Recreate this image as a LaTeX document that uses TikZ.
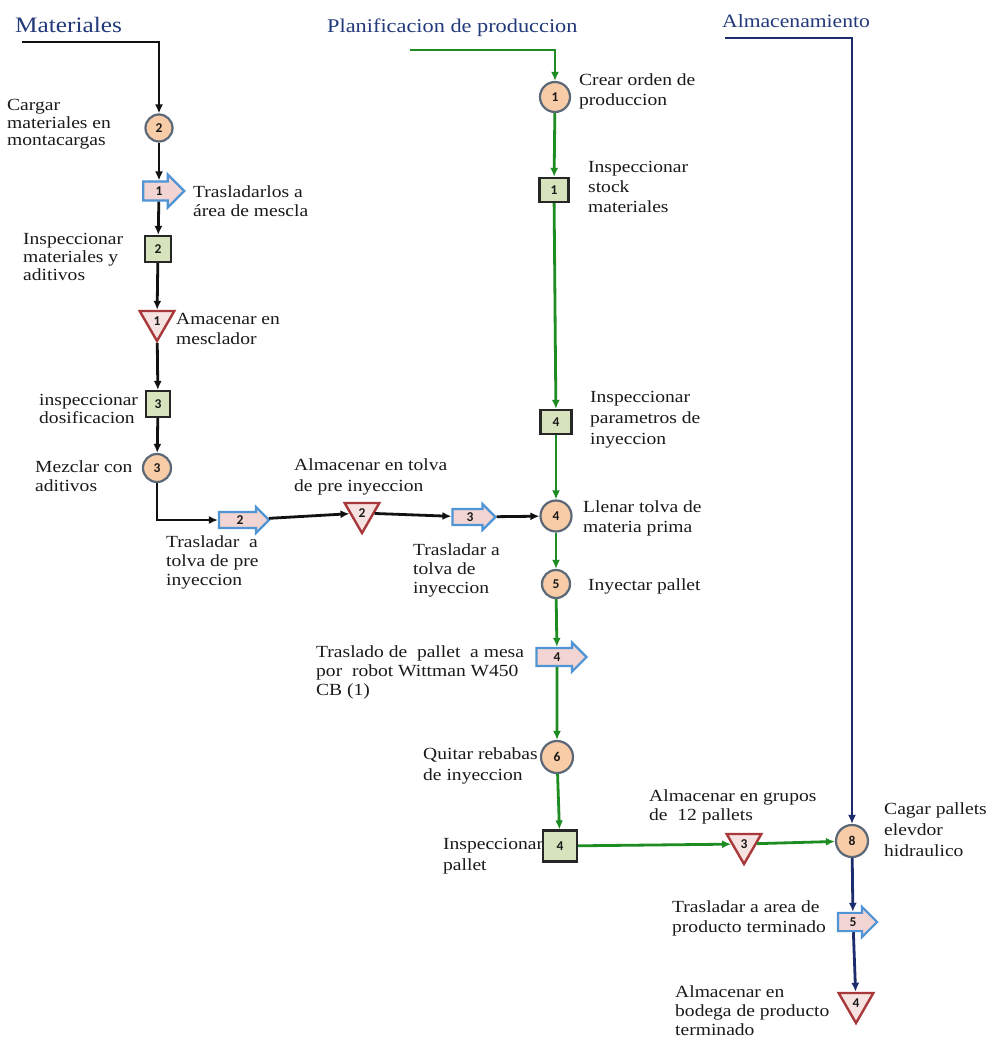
\documentclass[tikz,border=0pt]{standalone}
\usepackage{fontspec}
\setmainfont{Liberation Serif}[FakeStretch=1.15]
\newfontfamily\numfont{Carlito}
\usetikzlibrary{shapes.geometric,shapes.arrows,arrows.meta}
\definecolor{titleblue}{HTML}{233A7A}
\definecolor{lblack}{HTML}{111111}
\definecolor{lgreen}{HTML}{1E8C22}
\definecolor{lnavy}{HTML}{1C2C6C}
\definecolor{opfill}{HTML}{F9CCA8}
\definecolor{opdraw}{HTML}{5A6878}
\definecolor{inspfill}{HTML}{D6E3BD}
\definecolor{trifill}{HTML}{F6E2E0}
\definecolor{tridraw}{HTML}{A8383A}
\definecolor{trfill}{HTML}{F2D4D2}
\definecolor{trdraw}{HTML}{4F95D6}
\definecolor{txt}{HTML}{1A1A1A}
\newcommand\lblfont[1]{\fontsize{17}{#1}\selectfont}
\newcommand\numf{\numfont\bfseries\fontsize{13.5}{13.5}\selectfont}
\begin{document}
\begin{tikzpicture}[x=1pt,y=-1pt,
  title/.style={anchor=base west, inner sep=0pt, text=titleblue},
  lbl/.style={anchor=north west, align=left, inner sep=0pt, text=txt, font=\lblfont{#1}},
  lbl/.default=19.5,
  opnode/.style={circle, draw=opdraw, fill=opfill, line width=2.2pt, inner sep=0pt, minimum size=#1, font=\numf, text=txt},
  insp/.style 2 args={rectangle, draw=black!85, fill=inspfill, line width=2.2pt, minimum width=#1, minimum height=#2, inner sep=0pt, font=\numf, text=txt},
  tri/.style={regular polygon, regular polygon sides=3, shape border rotate=180, draw=tridraw, fill=trifill, line width=2.4pt, minimum size=40pt, inner sep=0pt, font=\numf, text=txt},
  trn/.style n args={3}{single arrow, draw=trdraw, fill=trfill, line width=2.2pt, minimum height=#1, single arrow head extend=#2, inner xsep=1pt, inner ysep=#3, font=\numf, text=txt},
  flowk/.style={line width=2.8pt, draw=lblack, -{Latex[length=9pt,width=8pt]}},
  flowg/.style={line width=2.8pt, draw=lgreen, -{Latex[length=9pt,width=8pt]}},
  flowb/.style={line width=2.8pt, draw=lnavy, -{Latex[length=9pt,width=8pt]}}
]
\useasboundingbox[fill=white] (0,0) rectangle (994,1041);

% titles
\node[title, font=\fontsize{22}{24}\selectfont] (tM) at (15,33) {Materiales};
\node[title, font=\fontsize{19.4}{22}\selectfont] (tP) at (327,33) {Planificacion de produccion};
\node[title, font=\fontsize{18.8}{22}\selectfont] (tA) at (722,28) {Almacenamiento};

% labels
\node[lbl=17.5] (l1) at (7,99.5) {Cargar\\materiales en\\montacargas};
\node[lbl=19] (l2) at (193,185.5) {Trasladarlos a\\área de mescla};
\node[lbl=18] (l3) at (23,233.5) {Inspeccionar\\materiales y\\aditivos};
\node[lbl=20] (l4) at (176,313.5) {Amacenar en\\mesclador};
\node[lbl=18] (l5) at (39,394.5) {inspeccionar\\dosificacion};
\node[lbl=19] (l6) at (35,460.5) {Mezclar con\\aditivos};
\node[lbl=19] (l7) at (166,535.5) {Trasladar \ a\\tolva de pre\\inyeccion};
\node[lbl=21] (l8) at (294,458.5) {Almacenar en tolva\\de pre inyeccion};
\node[lbl=19] (l9) at (413,543.5) {Trasladar a\\tolva de\\inyeccion};
\node[lbl=20] (l10) at (579,73.5) {Crear orden de\\produccion};
\node[lbl=20] (l11) at (588,161.5) {Inspeccionar\\stock\\materiales};
\node[lbl=21] (l12) at (590,391.5) {Inspeccionar\\parametros de\\inyeccion};
\node[lbl=20] (l13) at (583,500.5) {Llenar tolva de\\materia prima};
\node[anchor=base west, inner sep=0pt, text=txt, font=\lblfont{20}] (l14) at (588,590) {Inyectar pallet};
\node[lbl=19] (l15) at (316,645.5) {Traslado de \ pallet \ a mesa\\por \ robot Wittman W450\\CB (1)};
\node[lbl=21] (l16) at (423,747.5) {Quitar rebabas\\de inyeccion};
\node[lbl=21] (l17) at (443,838.5) {Inspeccionar\\pallet};
\node[lbl=19] (l18) at (649,789.5) {Almacenar en grupos\\de \ 12 pallets};
\node[lbl=21] (l19) at (884,802.5) {Cagar pallets\\elevdor\\hidraulico};
\node[lbl=20] (l20) at (672,900.5) {Trasladar a area de\\producto terminado};
\node[lbl=19] (l21) at (675,985.5) {Almacenar en\\bodega de producto\\terminado};

% start coordinates
\coordinate (mS) at (22,42);
\coordinate (pS) at (410,50);
\coordinate (aS) at (725,38);

% left column
\node[opnode=27pt] (c2) at (159,128) {2};
\node[trn={41pt}{7pt}{4pt}] (t1) at (159,191) {1};
\node[insp={26pt}{26pt}] (s2) at (158,249) {2};
\node[tri] (tr1) at (157,321) {1};
\node[insp={24pt}{26pt}] (s3) at (158,404) {3};
\node[opnode=28pt] (c3) at (157,468) {3};
\node[trn={50pt}{5pt}{2.4pt}] (t2) at (240,520) {2};
\node[tri] (tr2) at (362,513) {2};
\node[trn={43pt}{5pt}{2.4pt}] (t3) at (470,517) {3};

% middle column
\node[opnode=30pt] (c1) at (555,97) {1};
\node[insp={29pt}{24pt}] (s1) at (554,190) {1};
\node[insp={31pt}{24pt}] (s4) at (556,422) {4};
\node[opnode=31pt] (c4) at (556,516) {4};
\node[opnode=28pt] (c5) at (556,584) {5};
\node[trn={50pt}{5.5pt}{3.6pt}] (t4) at (557,657) {4};
\node[opnode=32pt] (c6) at (557,757) {6};
\node[insp={34pt}{31pt}] (s4b) at (560,846) {4};
\node[tri] (tr3) at (744,844) {3};

% right column
\node[opnode=32pt] (c8) at (852,841) {8};
\node[trn={39pt}{6pt}{3.6pt}] (t5) at (853,922) {5};
\node[tri] (tr4) at (856,1003) {4};

% connectors: materiales
\draw[flowk] (mS) -| (c2);
\draw[flowk] (c2) -- (t1);
\draw[flowk] (t1) -- (s2);
\draw[flowk] (s2) -- (tr1);
\draw[flowk] (tr1) -- (s3);
\draw[flowk] (s3) -- (c3);
\draw[flowk] (c3) |- (t2);
\draw[flowk] (t2) -- (tr2);
\draw[flowk] (tr2) -- (t3);
\draw[flowk] (t3) -- (c4);

% connectors: planificacion
\draw[flowg] (pS) -| (c1);
\draw[flowg] (c1) -- (s1);
\draw[flowg] (s1) -- (s4);
\draw[flowg] (s4) -- (c4);
\draw[flowg] (c4) -- (c5);
\draw[flowg] (c5) -- (t4);
\draw[flowg] (t4) -- (c6);
\draw[flowg] (c6) -- (s4b);
\draw[flowg] (s4b) -- (tr3);
\draw[flowg] (tr3) -- (c8);

% connectors: almacenamiento
\draw[flowb] (aS) -| (c8);
\draw[flowb] (c8) -- (t5);
\draw[flowb] (t5) -- (tr4);
\end{tikzpicture}
\end{document}
